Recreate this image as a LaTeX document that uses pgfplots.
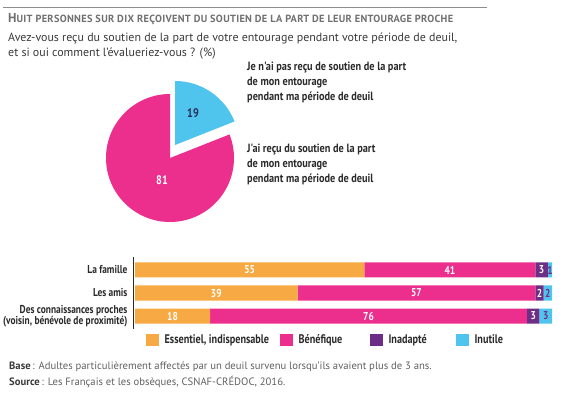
\documentclass[border=0pt]{standalone}
\usepackage{pgfplots}
\usepackage{pgfplotstable}
\pgfplotsset{compat=1.18}
\usepackage{fontspec}
\setmainfont{PT Sans}
\newfontfamily\cond[FakeStretch=0.82]{PT Sans}
\newfontfamily\condp[FakeStretch=0.86]{PT Sans}
\definecolor{cOr}{HTML}{F7A943}
\definecolor{cPk}{HTML}{EC2F8D}
\definecolor{cPu}{HTML}{6C2E86}
\definecolor{cCy}{HTML}{4FC4EC}
\definecolor{cTitle}{HTML}{707070}
\definecolor{cText}{HTML}{3A3A3A}
\definecolor{cFoot}{HTML}{606060}
\definecolor{cLab}{HTML}{2A2A2A}
\definecolor{cNavy}{HTML}{2B2A5A}
% pie values (%)
\def\pieA{19}% not received
\def\pieB{81}% received
\pgfplotstableread{
cat ess ben ina inu
0   55  41  3   1
1   39  57  2   2
2   18  76  3   3
}\bardata
\pgfplotsset{
  barframe/.style={
    at={(135bp,129bp)}, anchor=origin,
    x=4.17bp, y=23bp, y dir=reverse,
    xmin=-0.5, xmax=100, ymin=-0.55, ymax=2.55,
    enlargelimits=false, clip=false,
  },
  lbl/.style={draw=none, mark=none, nodes near coords, point meta=explicit,
    /pgf/number format/assume math mode=true,
    every node near coord/.style={anchor=center, inner sep=0pt, text=#1,
      font=\cond\bfseries\fontsize{11.5}{12}\selectfont}},
}
\begin{document}
\begin{tikzpicture}
\path[use as bounding box] (0,0) rectangle (564bp,399bp);
\begin{scope}[x=1bp,y=1bp]
  \draw[cTitle!80, line width=0.7bp] (3,392) -- (487,392);
  \node[anchor=base west, inner sep=0, text=cTitle, font=\bfseries] at (8,377)
    {\fontsize{13}{13}\selectfont H\fontsize{10.4}{10.4}\selectfont\addfontfeature{LetterSpace=3}UIT PERSONNES SUR DIX REÇOIVENT DU SOUTIEN DE LA PART DE LEUR ENTOURAGE PROCHE};
  \node[anchor=base west, inner sep=0, text=cText, font=\fontsize{12}{12}\selectfont] at (8,358)
    {Avez-vous reçu du soutien de la part de votre entourage pendant votre période de deuil,};
  \node[anchor=base west, inner sep=0, text=cText, font=\fontsize{12}{12}\selectfont] at (8,343)
    {et si oui comment l'évalueriez-vous ? (\%)};
  % pie labels
  \node[anchor=base west, inner sep=0, text=cLab, align=left, font=\condp\bfseries\fontsize{12}{15}\selectfont] at (247,299)
    {Je n'ai pas reçu de soutien de la part\\de mon entourage\\pendant ma période de deuil};
  \node[anchor=base west, inner sep=0, text=cLab, align=left, font=\condp\bfseries\fontsize{12}{15}\selectfont] at (247,217)
    {J'ai reçu du soutien de la part\\de mon entourage\\pendant ma période de deuil};
  % footnotes
  \node[anchor=base west, inner sep=0, text=cFoot, font=\fontsize{10.7}{11}\selectfont] at (9,30)
    {\textbf{\color{cText}Base}\,: Adultes particulièrement affectés par un deuil survenu lorsqu'ils avaient plus de 3 ans.};
  \node[anchor=base west, inner sep=0, text=cFoot, font=\fontsize{10.7}{11}\selectfont] at (9,14)
    {\textbf{\color{cText}Source}\,: Les Français et les obsèques, CSNAF-CRÉDOC, 2016.};
\end{scope}

% ---------- pie ----------
\begin{axis}[
  at={(170bp,241bp)}, anchor=origin,
  x=1bp, y=1bp, xmin=-70, xmax=70, ymin=-70, ymax=70,
  hide axis, clip=false,
]
  \pgfmathsetmacro\angA{90-\pieA*3.6}
  \pgfmathsetmacro\angB{90+\pieB*3.6}
  \fill[cPk] (axis cs:0,0) -- (axis cs:0,64) arc[start angle=90, end angle=\angB, radius=64bp] -- cycle;
  \fill[cCy] (axis cs:5,13) -- ++(90:64bp) arc[start angle=90, end angle=\angA, radius=64bp] -- cycle;
  \node[text=cNavy, font=\cond\bfseries\fontsize{12.5}{12}\selectfont] at (axis cs:23,45) {\pieA};
  \node[text=white, font=\cond\bfseries\fontsize{12.5}{12}\selectfont] at (axis cs:-8,-22) {\pieB};
\end{axis}

% ---------- bars ----------
\begin{axis}[
  barframe,
  xbar stacked,
  bar width=15bp,
  axis x line=none, axis y line*=left,
  y axis line style={draw=cLab, line width=0.8bp, -},
  ytick={0,1,2},
  yticklabels={La famille, Les amis, {Des connaissances proches\\(voisin, bénévole de proximité)}},
  yticklabel style={align=right, text=cLab, font=\cond\bfseries\fontsize{11.5}{10.5}\selectfont, xshift=-2bp},
  major tick length=0pt,
  legend columns=4,
  legend style={at={(axis cs:2.5,3.05)}, anchor=west, draw=none, fill=none, inner sep=0pt,
     font=\cond\bfseries\fontsize{12.5}{12}\selectfont, text=cLab,
     /tikz/every odd column/.append style={column sep=4bp}},
  legend image code/.code={\fill[#1] (0bp,-6bp) rectangle (13bp,6bp);},
]
  \addplot[fill=cOr, draw=none] table[x=ess, y=cat] {\bardata};
  \addlegendentry{\makebox[113bp][l]{Essentiel, indispensable}}
  \addplot[fill=cPk, draw=none] table[x=ben, y=cat] {\bardata};
  \addlegendentry{\makebox[69bp][l]{Bénéfique}}
  \addplot[fill=cPu, draw=none] table[x=ina, y=cat] {\bardata};
  \addlegendentry{\makebox[65bp][l]{Inadapté}}
  \addplot[fill=cCy, draw=none] table[x=inu, y=cat] {\bardata};
  \addlegendentry{Inutile}
\end{axis}

% ---------- bar value labels ----------
\begin{axis}[barframe, hide axis]
  \addplot[lbl=white] table[x expr=\thisrow{ess}/2, y=cat, meta=ess] {\bardata};
  \addplot[lbl=white] table[x expr=\thisrow{ess}+\thisrow{ben}/2, y=cat, meta=ben] {\bardata};
  \addplot[lbl=white] table[x expr=\thisrow{ess}+\thisrow{ben}+\thisrow{ina}/2, y=cat, meta=ina] {\bardata};
  \addplot[lbl=cPu] table[x expr=\thisrow{ess}+\thisrow{ben}+\thisrow{ina}+\thisrow{inu}/2, y=cat, meta=inu] {\bardata};
\end{axis}
\end{tikzpicture}
\end{document}
